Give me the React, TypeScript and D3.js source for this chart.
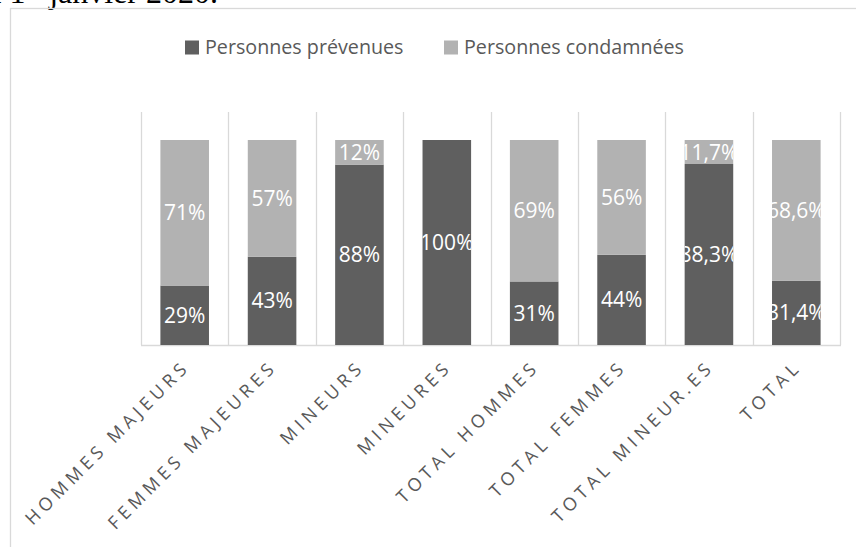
import React from "react";
import * as d3 from "d3";

const categories = [
  "HOMMES MAJEURS",
  "FEMMES MAJEURES",
  "MINEURS",
  "MINEURES",
  "TOTAL HOMMES",
  "TOTAL FEMMES",
  "TOTAL MINEUR.ES",
  "TOTAL",
];
const seriesNames = ["Personnes prévenues", "Personnes condamnées"];
const prevenues = [29, 43, 88, 100, 31, 44, 88.3, 31.4];
const condamnees = [71, 57, 12, 0, 69, 56, 11.7, 68.6];
const prevenuesLabels = ["29%", "43%", "88%", "100%", "31%", "44%", "88,3%", "31,4%"];
const condamneesLabels = ["71%", "57%", "12%", "", "69%", "56%", "11,7%", "68,6%"];

const W = 856;
const H = 547;
const COLORS = ["#5f5f5f", "#b2b2b2"];
const GRID = "#d9d9d9";
const TEXT = "#595959";
const FONT = "'Open Sans', 'Noto Sans', sans-serif";

export default function App() {
  const left = 141;
  const right = 840;
  const bottom = 345;
  const top = 140;
  const gridTop = 112;

  const x = d3
    .scaleBand<string>()
    .domain(categories)
    .range([left, right])
    .paddingInner(0.444)
    .paddingOuter(0.222);
  const y = d3.scaleLinear().domain([0, 100]).range([bottom, top]);
  const step = x.step();
  const bw = x.bandwidth();

  const stacked = categories.map((c, i) => {
    const a = prevenues[i];
    const b = condamnees[i];
    return [
      { y0: 0, y1: a, label: prevenuesLabels[i], color: COLORS[0] },
      { y0: a, y1: a + b, label: condamneesLabels[i], color: COLORS[1] },
    ];
  });

  const ls = 4.5;
  const labelFont = 18;

  return (
    <svg
      width={W}
      height={H}
      style={{ position: "absolute", left: 0, top: 0, display: "block", background: "#fff" }}
    >
      <defs>
        {categories.map((c, i) => (
          <clipPath id={`clip${i}`} key={c}>
            <rect x={x(c)} y={top} width={bw} height={bottom - top} />
          </clipPath>
        ))}
      </defs>
      {/* document text above chart, cut off */}
      <text
        x={218}
        y={3}
        textAnchor="end"
        fontFamily="'Liberation Serif', 'DejaVu Serif', serif"
        fontSize={32}
        fill="#000"
      >
        au 1<tspan fontSize={20} dy={-12}>er</tspan>
        <tspan dy={12}> janvier 2020.</tspan>
      </text>
      {/* chart frame */}
      <rect x={10.5} y={8.5} width={1000} height={1000} fill="none" stroke={GRID} strokeWidth={1.3} />

      {/* vertical category gridlines */}
      {d3.range(categories.length + 1).map((i) => {
        const gx = Math.round(left + i * step) + 0.5;
        return <line key={i} x1={gx} x2={gx} y1={gridTop} y2={bottom} stroke={GRID} strokeWidth={1.3} />;
      })}
      <line x1={left} x2={right + 1} y1={bottom + 0.5} y2={bottom + 0.5} stroke={GRID} strokeWidth={1.3} />

      {/* bars */}
      {categories.map((c, i) =>
        stacked[i].map((s, j) =>
          s.y1 > s.y0 ? (
            <rect
              key={`${c}-${j}`}
              x={x(c)}
              y={y(s.y1)}
              width={bw}
              height={y(s.y0) - y(s.y1)}
              fill={s.color}
            />
          ) : null
        )
      )}
      {/* data labels */}
      {categories.map((c, i) =>
        stacked[i].map((s, j) =>
          s.label ? (
            <text
              key={`l-${c}-${j}`}
              clipPath={`url(#clip${i})`}
              x={(x(c) as number) + bw / 2}
              y={(y(s.y0) + y(s.y1)) / 2}
              dy="0.36em"
              textAnchor="middle"
              fontFamily={FONT}
              fontSize={21}
              fill="#fff"
            >
              {s.label}
            </text>
          ) : null
        )
      )}

      {/* category labels */}
      {categories.map((c) => {
        const cx = (x(c) as number) + bw / 2;
        const ax = cx + 3 + ls * 0.707;
        const ay = 371 - ls * 0.707;
        return (
          <text
            key={`cat-${c}`}
            transform={`translate(${ax},${ay}) rotate(-45)`}
            textAnchor="end"
            fontFamily={FONT}
            fontSize={labelFont}
            letterSpacing={ls}
            fill={TEXT}
          >
            {c}
          </text>
        );
      })}

      {/* legend */}
      {seriesNames.map((n, i) => {
        const lx = [185, 444][i];
        return (
          <g key={n}>
            <rect x={lx} y={40.5} width={14} height={14} fill={COLORS[i]} />
            <text x={lx + 20} y={53.5} fontFamily={FONT} fontSize={19.7} fill={TEXT}>
              {n}
            </text>
          </g>
        );
      })}
    </svg>
  );
}
